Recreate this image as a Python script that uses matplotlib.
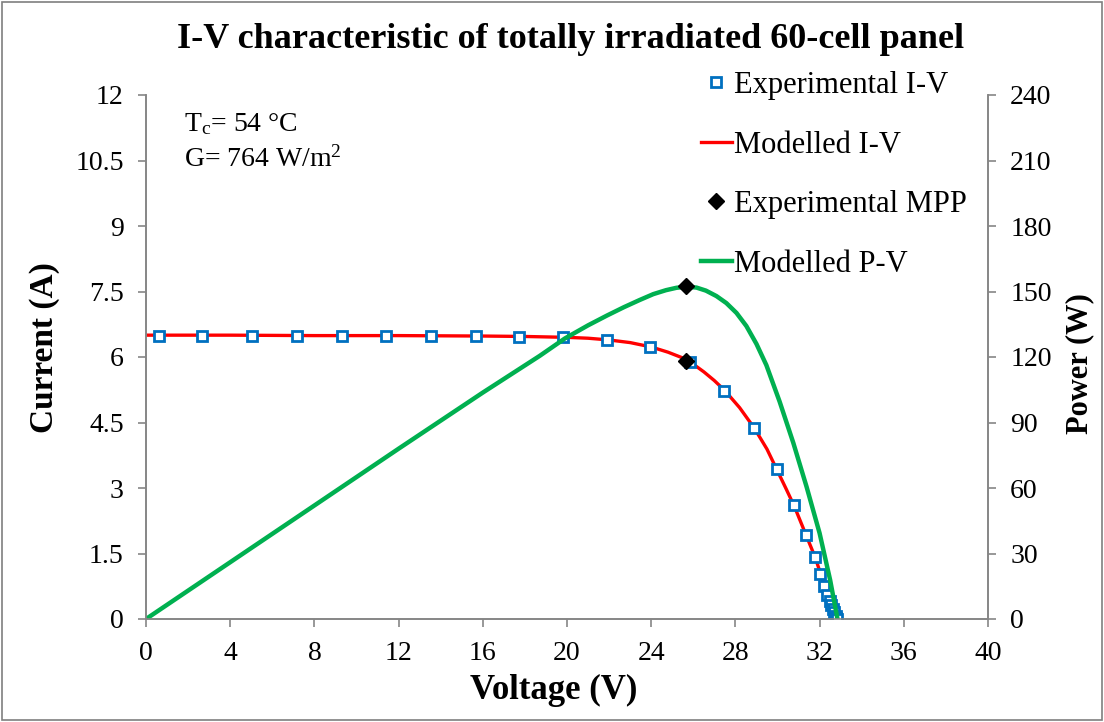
import matplotlib
matplotlib.use('Agg')
import matplotlib.pyplot as plt
from matplotlib.patches import Rectangle

plt.rcParams['font.family'] = ['Liberation Serif', 'DejaVu Serif']
plt.rcParams['mathtext.fontset'] = 'custom'
plt.rcParams['mathtext.rm'] = 'Liberation Serif'
plt.rcParams['mathtext.it'] = 'Liberation Serif:italic'

# experimental I-V points
exp_v = [0.62, 2.66, 5.04, 7.18, 9.32, 11.41, 13.55, 15.70, 17.74, 19.83,
         21.88, 23.94, 25.85, 27.47, 28.88, 29.96, 30.77, 31.36, 31.80,
         32.04, 32.23, 32.37, 32.48, 32.56, 32.63, 32.70, 32.76, 32.80, 32.84]
exp_i = [6.48, 6.49, 6.49, 6.48, 6.48, 6.48, 6.47, 6.47, 6.46, 6.45,
         6.39, 6.24, 5.89, 5.23, 4.37, 3.44, 2.61, 1.93, 1.41,
         1.02, 0.75, 0.54, 0.42, 0.32, 0.23, 0.15, 0.08, 0.03, 0.0]

# modelled I-V curve
mod_v = [0, 4, 8, 12, 16, 18, 19, 20, 21, 22, 23, 24, 24.8, 25.7, 26.5,
         27.0, 27.5, 28.2, 28.9, 29.5, 29.95, 30.4, 30.8, 31.35, 31.8, 32.05,
         32.25, 32.45, 32.65, 32.82]
mod_i = [6.50, 6.50, 6.49, 6.49, 6.48, 6.47, 6.46, 6.45, 6.43, 6.39, 6.33,
         6.23, 6.11, 5.94, 5.66, 5.46, 5.23, 4.84, 4.37, 3.89, 3.44, 2.99,
         2.58, 1.93, 1.40, 1.03, 0.74, 0.46, 0.22, 0.0]

# modelled P-V curve
pv_v = [0, 4, 8, 12, 16, 18.7, 19.9, 21, 21.9, 22.7, 23.45, 24.1, 24.7, 25.2,
        25.67, 26.15, 26.6, 27.1, 27.57, 28.05, 28.52, 29.0, 29.47, 30.1,
        30.75, 31.38, 32.0, 32.5, 32.85]
pv_p = [0, 26, 52, 78, 103.7, 120.5, 128.5, 134.5, 139.0, 142.8, 146.1,
        148.8, 150.6, 151.7, 152.2, 151.8, 150.4, 147.9, 144.7, 140.2, 134.2,
        126.0, 116.3, 99.6, 80.7, 60.6, 39.3, 17.9, 0]

# experimental maximum power point
mpp_v = [25.63]
mpp_i = [5.91]
mpp_p = [152.5]

fig = plt.figure(figsize=(11.04, 7.22), dpi=100)
ax = fig.add_axes([146 / 1104, 1 - 619 / 722, 842 / 1104, 524 / 722])
ax2 = ax.twinx()

spine_col = '#868686'
for a in (ax, ax2):
    a.spines['top'].set_visible(False)
    for s in ('left', 'right', 'bottom'):
        a.spines[s].set_color(spine_col)
        a.spines[s].set_linewidth(1.2)
    a.tick_params(direction='out', length=6, width=1.2, color=spine_col,
                  labelsize=20, pad=10)

red_line, = ax.plot(mod_v, mod_i, color='#FF0000', lw=2.4, zorder=2,
                    label='Modelled I-V')
exp_pts, = ax.plot(exp_v, exp_i, 's', ms=7.5, mfc='white', mec='#0070C0',
                   mew=2, zorder=3, label='Experimental I-V')
mpp_pts, = ax.plot(mpp_v, mpp_i, 'D', ms=8, color='black', zorder=4,
                   label='Experimental MPP')
green_line, = ax2.plot(pv_v, pv_p, color='#00B050', lw=3.2, zorder=2,
                       label='Modelled P-V')
ax2.plot(mpp_v, mpp_p, 'D', ms=8, color='black', zorder=4)

ax.set_xlim(0, 40)
ax.set_ylim(0, 12)
ax2.set_ylim(0, 240)
ax.set_xticks(range(0, 41, 4))
ax.set_yticks([0, 1.5, 3, 4.5, 6, 7.5, 9, 10.5, 12])
ax.set_yticklabels(['0', '1.5', '3', '4.5', '6', '7.5', '9', '10.5', '12'])
ax2.set_yticks(range(0, 241, 30))

ax.set_xlabel('Voltage (V)', fontsize=25, fontweight='bold', va='center')
ax.xaxis.set_label_coords((554 - 146) / 842, (619 - 690) / 524)
ax.set_ylabel('Current (A)', fontsize=24, fontweight='bold', va='center')
ax.yaxis.set_label_coords((45 - 146) / 842, (619 - 348) / 524)
ax2.set_ylabel('Power (W)', fontsize=22, fontweight='bold', va='center',
               rotation=90)
ax2.yaxis.set_label_coords((1080 - 146) / 842, (619 - 364) / 524)

fig.text(571 / 1104, 1 - 40 / 722,
         'I-V characteristic of totally irradiated 60-cell panel',
         fontsize=26, fontweight='bold', ha='center', va='center')

ax.text(0.045, (619 - 131) / 524, 'T$_\\mathrm{c}$= 54 °C',
        transform=ax.transAxes, fontsize=20, va='baseline')
ax.text(0.045, (619 - 167) / 524, 'G= 764 W/m$^2$',
        transform=ax.transAxes, fontsize=20, va='baseline')

fig.legend(handles=[exp_pts, red_line, mpp_pts, green_line],
           loc='upper left', bbox_to_anchor=(701 / 1104, 1 - 71 / 722),
           frameon=False, fontsize=22, handlelength=1.0, handletextpad=0.08,
           labelspacing=1.0, borderaxespad=0, borderpad=0)

fig.add_artist(Rectangle((0.002, 0.003), 0.996, 0.994,
                         transform=fig.transFigure, fill=False,
                         edgecolor='#7f7f7f', lw=1.2))

fig.savefig('out.png', dpi=100)
